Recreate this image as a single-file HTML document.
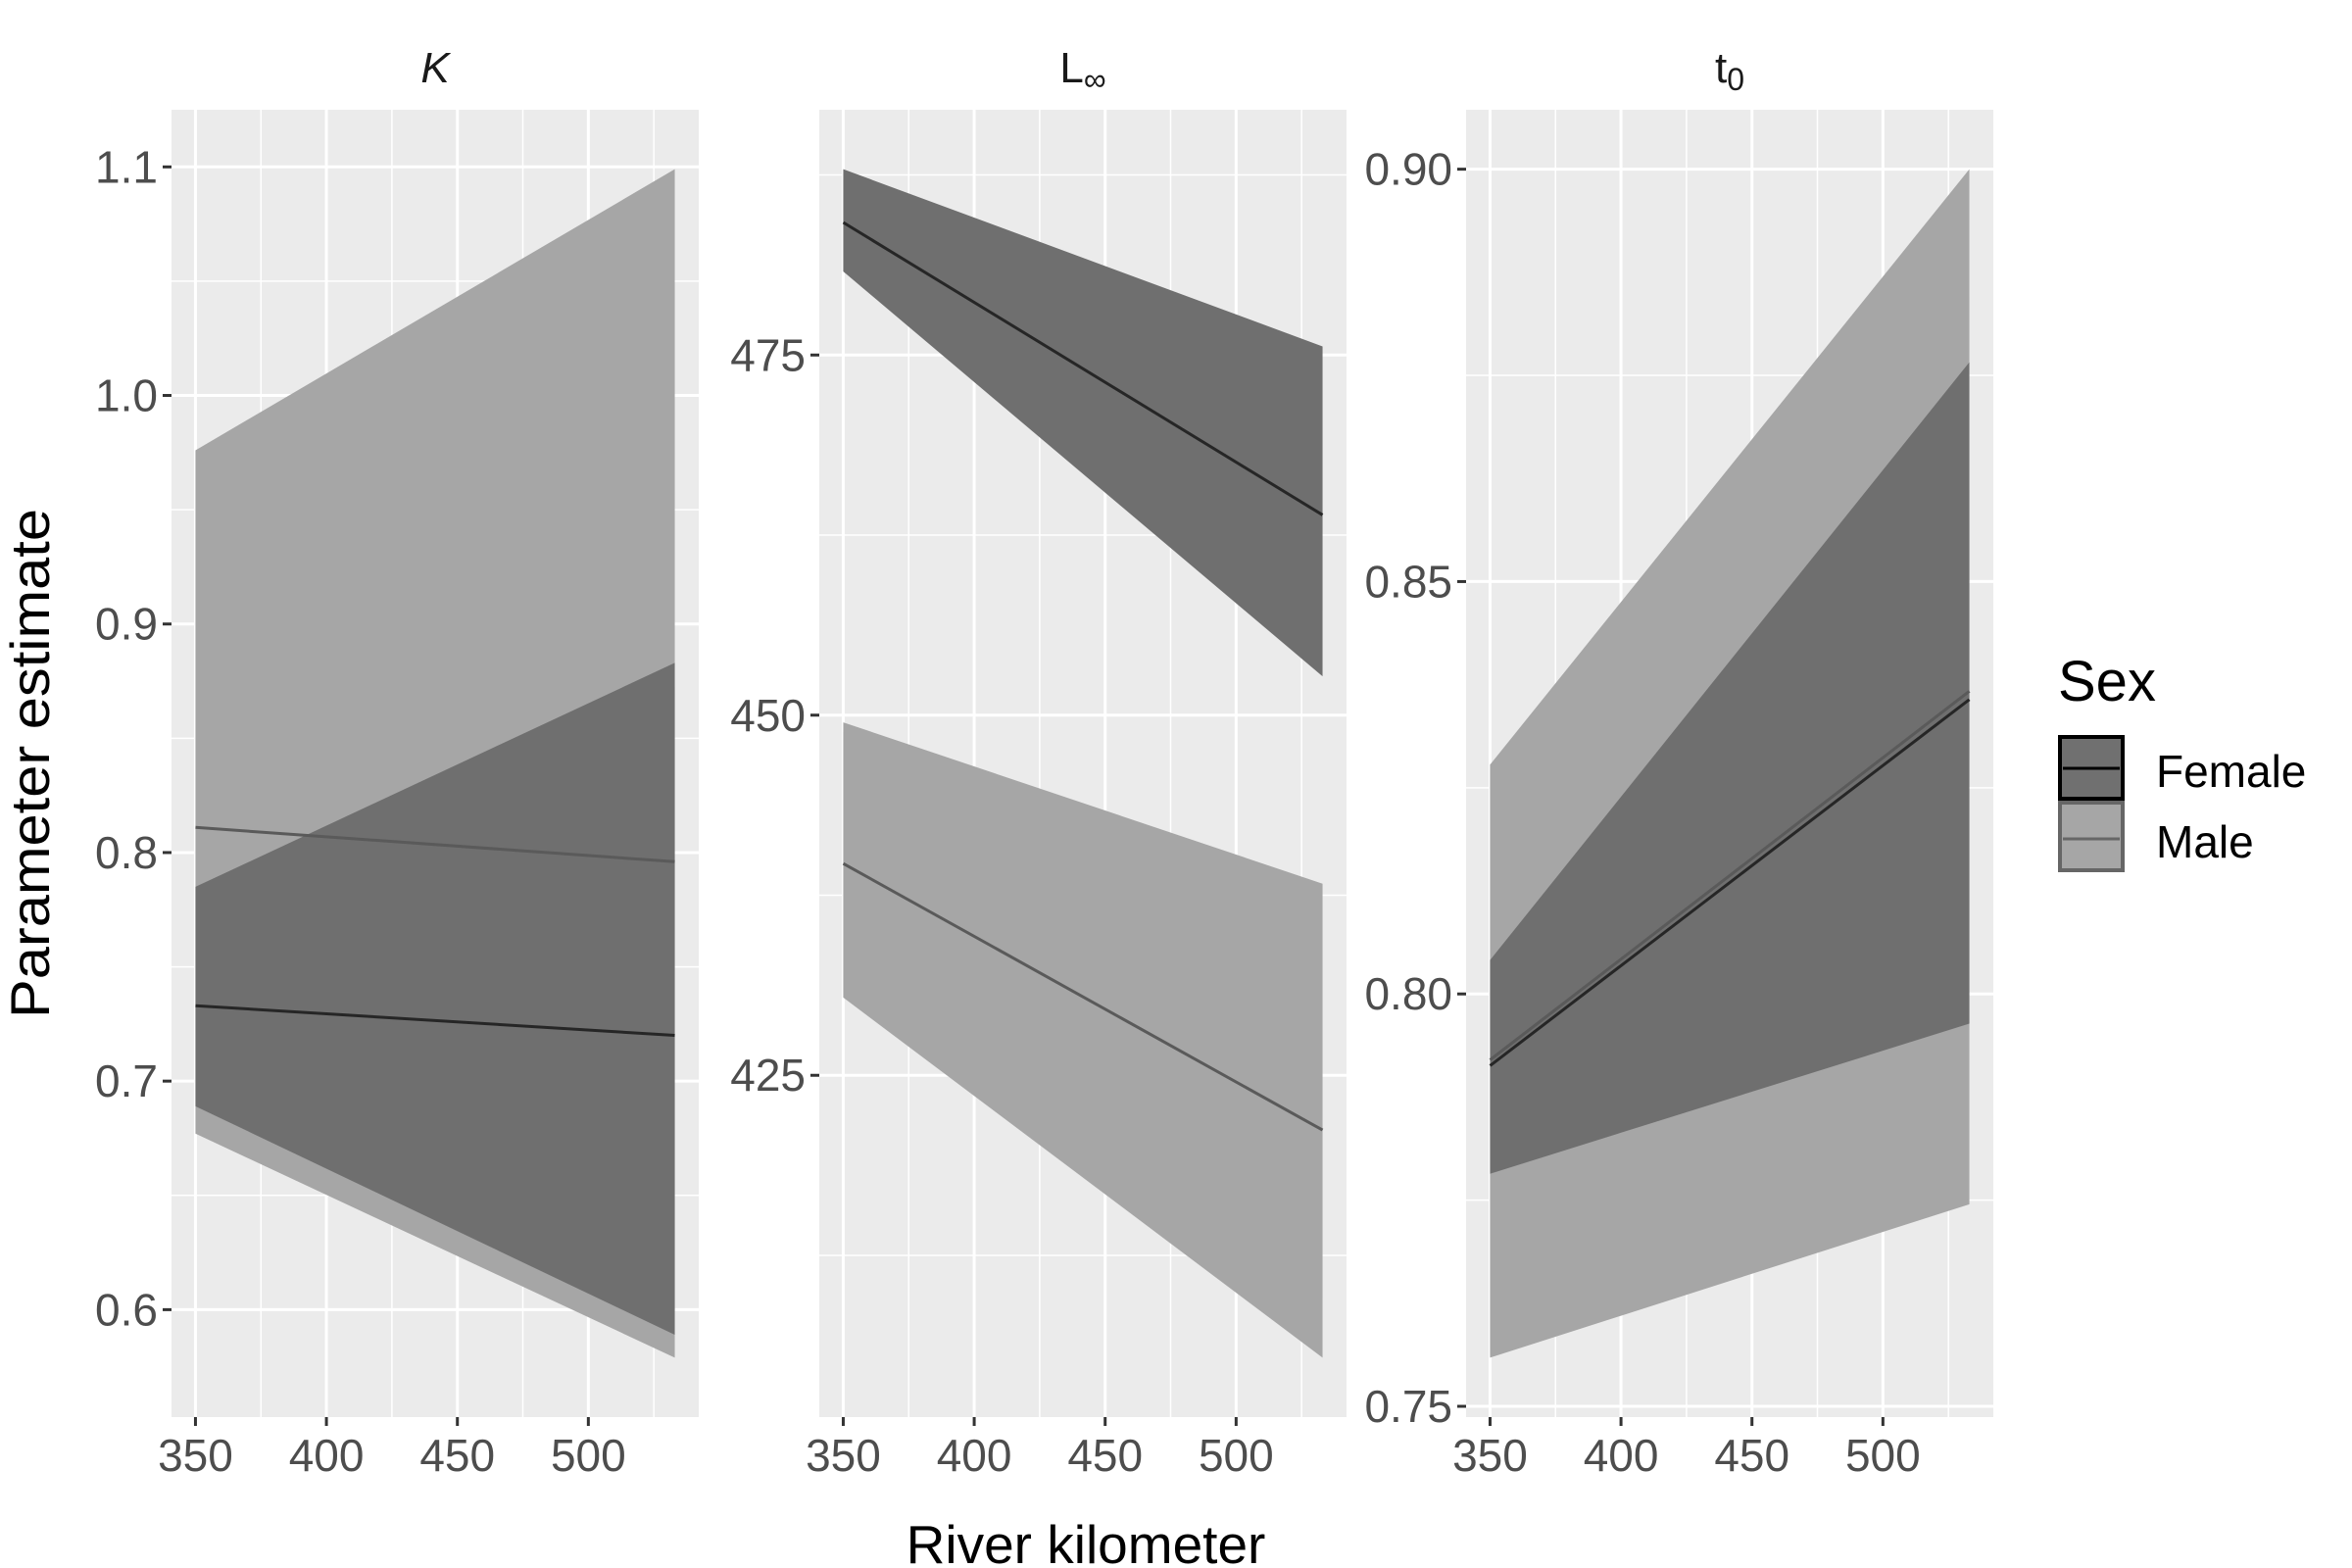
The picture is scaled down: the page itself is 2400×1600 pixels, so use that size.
<!DOCTYPE html>
<html><head><meta charset="utf-8"><style>html,body{margin:0;padding:0;background:#fff}svg{display:block}</style></head>
<body>
<svg id="chart" width="2400" height="1600" viewBox="0 0 2400 1600" xmlns="http://www.w3.org/2000/svg" font-family="Liberation Sans, sans-serif">
<text x="0" y="0" transform="translate(50,779) rotate(-90)" text-anchor="middle" font-size="56" fill="#000" textLength="520" lengthAdjust="spacingAndGlyphs">Parameter estimate</text>
<text x="1108" y="1595" text-anchor="middle" font-size="55" fill="#000">River kilometer</text>
<g>
<text x="2100" y="715" font-size="58" fill="#000">Sex</text>
<g>
<rect x="2102" y="752" width="64" height="63" fill="#707070" stroke="#000" stroke-width="4"/>
<line x1="2105" y1="784" x2="2163" y2="784" stroke="#000" stroke-width="3"/>
<text x="2200" y="803" font-size="46" fill="#000">Female</text></g>
<g>
<rect x="2102" y="819" width="64" height="69" fill="#a6a6a6" stroke="#666" stroke-width="4"/>
<line x1="2105" y1="856" x2="2163" y2="856" stroke="#666" stroke-width="3"/>
<text x="2200" y="875" font-size="46" fill="#000">Male</text></g>
</g>
</svg>
<script>
// shared x values (river km)
const xVals = [350, 533];
// Panel K
const kMaleUpper = [0.976, 1.099];
const kMaleLower = [0.677, 0.579];
const kMaleLine = [0.811, 0.796];
const kFemaleUpper = [0.785, 0.883];
const kFemaleLower = [0.689, 0.589];
const kFemaleLine = [0.733, 0.720];
const kTicks = [0.6, 0.7, 0.8, 0.9, 1.0, 1.1];
const kTickLabels = ["0.6", "0.7", "0.8", "0.9", "1.0", "1.1"];
// Panel L-infinity
const lMaleUpper = [449.5, 438.3];
const lMaleLower = [430.4, 405.4];
const lMaleLine = [439.7, 421.2];
const lFemaleUpper = [487.9, 475.6];
const lFemaleLower = [480.8, 452.7];
const lFemaleLine = [484.2, 463.9];
const lTicks = [425, 450, 475];
const lTickLabels = ["425", "450", "475"];
// Panel t0
const tMaleUpper = [0.8278, 0.900];
const tMaleLower = [0.7559, 0.7745];
const tMaleLine = [0.7920, 0.8367];
const tFemaleUpper = [0.8041, 0.8766];
const tFemaleLower = [0.7782, 0.7964];
const tFemaleLine = [0.7913, 0.8357];
const tTicks = [0.75, 0.80, 0.85, 0.90];
const tTickLabels = ["0.75", "0.80", "0.85", "0.90"];
const xTicks = [350, 400, 450, 500];
const xTickLabels = ["350", "400", "450", "500"];

const NS = "http://www.w3.org/2000/svg";
const svg = document.getElementById('chart');
function mk(tag, attrs, parent) {
  const e = document.createElementNS(NS, tag);
  for (const k in attrs) e.setAttribute(k, attrs[k]);
  (parent || svg).appendChild(e);
  return e;
}
function extent(arrs) {
  let lo = Infinity, hi = -Infinity;
  arrs.forEach(a => a.forEach(v => { lo = Math.min(lo, v); hi = Math.max(hi, v); }));
  const p = (hi - lo) * 0.05;
  return [lo - p, hi + p];
}
const TOP = 112, BOT = 1446, W = 538;
const xlo = 350, xhi = 533, xp = (xhi - xlo) * 0.05;

function panel(name, left, title, titleSub, italic, ticks, labels, mu, ml, mline, fu, fl, fline) {
  const g = mk('g', {});
  
  
  const [ylo, yhi] = extent([mu, ml, fu, fl]);
  const sx = v => left + (v - (xlo - xp)) / ((xhi + xp) - (xlo - xp)) * W;
  const sy = v => BOT - (v - ylo) / (yhi - ylo) * (BOT - TOP);
  const bg = mk('rect', {x: left, y: TOP, width: W, height: BOT - TOP, fill: '#ebebeb'}, g);
  
  
  const step = ticks[1] - ticks[0];
  for (let v = ticks[0] - step / 2; v <= yhi; v += step) {
    if (v < ylo) continue;
    mk('line', {x1: left, x2: left + W, y1: sy(v), y2: sy(v), stroke: '#fff', 'stroke-width': 1.5}, g);
  }
  for (let v = 325; v <= 550; v += 50) {
    if (sx(v) < left || sx(v) > left + W) continue;
    mk('line', {x1: sx(v), x2: sx(v), y1: TOP, y2: BOT, stroke: '#fff', 'stroke-width': 1.5}, g);
  }
  ticks.forEach((v, i) => {
    mk('line', {x1: left, x2: left + W, y1: sy(v), y2: sy(v), stroke: '#fff', 'stroke-width': 3}, g);
    mk('line', {x1: left - 9, x2: left, y1: sy(v), y2: sy(v), stroke: '#333', 'stroke-width': 3}, g);
    const t = mk('text', {x: left - 14, y: sy(v) + 16, 'text-anchor': 'end', 'font-size': 46, fill: '#4d4d4d'}, g);
    
    
    t.textContent = labels[i];
  });
  xTicks.forEach((v, i) => {
    mk('line', {x1: sx(v), x2: sx(v), y1: TOP, y2: BOT, stroke: '#fff', 'stroke-width': 3}, g);
    mk('line', {x1: sx(v), x2: sx(v), y1: BOT, y2: BOT + 9, stroke: '#333', 'stroke-width': 3}, g);
    const t = mk('text', {x: sx(v), y: BOT + 55, 'text-anchor': 'middle', 'font-size': 46, fill: '#4d4d4d'}, g);
    
    
    t.textContent = xTickLabels[i];
  });
  function ribbon(up, lo, fill, nm) {
    let d = 'M' + xVals.map((x, i) => sx(x) + ',' + sy(up[i])).join(' L');
    d += ' L' + xVals.slice().reverse().map((x, j) => sx(x) + ',' + sy(lo[xVals.length - 1 - j])).join(' L') + ' Z';
    const p = mk('path', {d: d, fill: fill}, g);
    
    
  }
  function line(vals, col, nm) {
    const p = mk('polyline', {points: xVals.map((x, i) => sx(x) + ',' + sy(vals[i])).join(' '), fill: 'none', stroke: col, 'stroke-width': 3}, g);
    
    
  }
  ribbon(mu, ml, '#a6a6a6', 'male-ribbon');
  ribbon(fu, fl, '#6f6f6f', 'female-ribbon');
  line(mline, '#5a5a5a', 'male-line');
  line(fline, '#262626', 'female-line');
  const tt = mk('text', {x: left + W / 2, y: 84, 'text-anchor': 'middle', 'font-size': 44, fill: '#1a1a1a'}, g);
  if (italic) tt.setAttribute('font-style', 'italic');
  
  
  tt.textContent = title;
  if (titleSub) {
    const s = mk('tspan', {'font-size': 32, dy: 8}, tt);
    s.textContent = titleSub;
  }
}
panel('k', 175, 'K', null, true, kTicks, kTickLabels, kMaleUpper, kMaleLower, kMaleLine, kFemaleUpper, kFemaleLower, kFemaleLine);
panel('linf', 836, 'L', '∞', false, lTicks, lTickLabels, lMaleUpper, lMaleLower, lMaleLine, lFemaleUpper, lFemaleLower, lFemaleLine);
panel('t0', 1496, 't', '0', false, tTicks, tTickLabels, tMaleUpper, tMaleLower, tMaleLine, tFemaleUpper, tFemaleLower, tFemaleLine);
</script>
</body></html>
